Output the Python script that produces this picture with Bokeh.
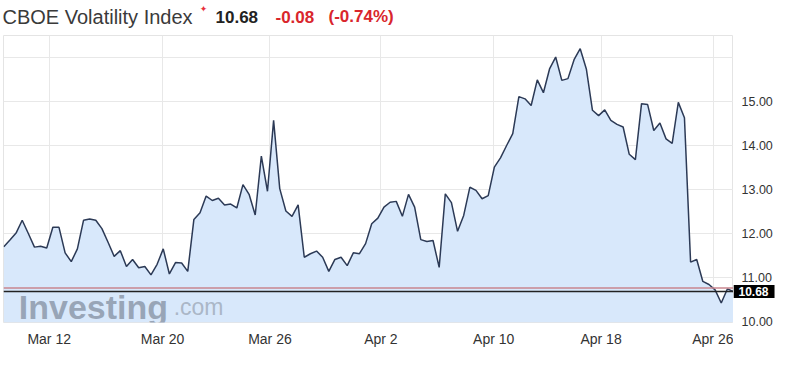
from bokeh.plotting import figure
from bokeh.layouts import column, row
from bokeh.models import (Range1d, FixedTicker, Span, Label, LabelSet,
                          ColumnDataSource, Plot)
from bokeh.core.properties import value
from bokeh.embed import file_html
from bokeh.resources import INLINE

# ---- data ----
vix = [11.70, 11.85, 12.01, 12.30, 12.00, 11.69, 11.71, 11.67, 12.14, 12.14,
       11.56, 11.36, 11.65, 12.30, 12.33, 12.30, 12.11, 11.80, 11.48, 11.61,
       11.25, 11.41, 11.22, 11.25, 11.06, 11.30, 11.65, 11.08, 11.34, 11.33,
       11.14, 12.32, 12.47, 12.85, 12.75, 12.80, 12.65, 12.67, 12.58, 13.11,
       12.89, 12.42, 13.76, 12.96, 14.57, 13.02, 12.51, 12.39, 12.65, 11.46,
       11.54, 11.60, 11.46, 11.14, 11.41, 11.46, 11.27, 11.56, 11.54, 11.77,
       12.22, 12.35, 12.60, 12.71, 12.73, 12.39, 12.89, 12.60, 11.86, 11.82,
       11.84, 11.23, 12.90, 12.70, 12.05, 12.41, 13.05, 12.98, 12.79, 12.86,
       13.51, 13.72, 14.00, 14.27, 15.11, 15.06, 14.91, 15.49, 15.20, 15.74,
       16.01, 15.48, 15.52, 15.95, 16.20, 15.74, 14.80, 14.68, 14.81, 14.57,
       14.48, 14.42, 13.80, 13.68, 14.95, 14.93, 14.34, 14.51, 14.15, 14.05,
       14.98, 14.63, 11.35, 11.41, 10.91, 10.84, 10.72, 10.42, 10.74, 10.68]
x_tick_pos = [7.4, 25.9, 43.4, 61.5, 79.9, 97.4, 115.8]
x_tick_labels = ["Mar 12", "Mar 20", "Mar 26", "Apr 2", "Apr 10", "Apr 18", "Apr 26"]
y_grid_ticks = [10, 11, 12, 13, 14, 15, 16]
y_label_ticks = [10, 11, 12, 13, 14, 15]
last_price = 10.68
prev_close = 10.76
title = "CBOE Volatility Index"
last_text = "10.68"
change_text = "-0.08"
change_pct_text = "(-0.74%)"

idx = list(range(len(vix)))
y_lo, y_hi = 9.977, 16.50
FONT = "Liberation Sans"
TOTAL_W, TOTAL_H = 786, 367
HDR_H = 34
MAIN_H = TOTAL_H - HDR_H
AXIS_W = 53
TOP_B, BOT_B = 1, 45
CAN_UNALIGN = "frame_align" in Plot.properties()

# ---------------- header ----------------
h = figure(width=TOTAL_W, height=HDR_H, output_backend="svg", toolbar_location=None,
           x_range=Range1d(0, TOTAL_W), y_range=Range1d(0, HDR_H),
           min_border=0, x_axis_type=None, y_axis_type=None)
h.outline_line_color = None
h.grid.visible = False
h.background_fill_color = "white"
h.border_fill_color = "white"

def hdr(x, text, size="18px", color="#3a3a3a", style="normal", y=18,
        font=FONT, align="left", baseline="alphabetic"):
    h.add_layout(Label(x=x, y=y, x_units="screen", y_units="screen", text=text,
                       text_font=font, text_font_size=size, text_color=color,
                       text_font_style=style, text_align=align, text_baseline=baseline))

hdr(2, title, size="20px", color="#3a3a3a")
hdr(203, "\u2726", size="9px", color="#e8303a", y=26, font="DejaVu Sans",
    align="center", baseline="middle")
hdr(215, last_text, size="17px", color="#222222", style="bold")
hdr(275, change_text, size="17px", color="#d9262c", style="bold")
hdr(328, change_pct_text, size="17px", color="#d9262c", style="bold")

# ---------------- main chart ----------------
p = figure(width=TOTAL_W - AXIS_W, height=MAIN_H, output_backend="svg", toolbar_location=None,
           x_range=Range1d(-0.05, len(vix) - 1), y_range=Range1d(y_lo, y_hi),
           y_axis_location=None,
           min_border_left=3, min_border_right=0, min_border_top=TOP_B, min_border_bottom=BOT_B)
p.background_fill_color = "white"
p.border_fill_color = "white"
p.outline_line_color = "#e4e4e4"

p.xaxis.ticker = FixedTicker(ticks=x_tick_pos)
p.xaxis.major_label_overrides = {t: l for t, l in zip(x_tick_pos, x_tick_labels)}
ax = p.xaxis[0]
ax.axis_line_color = None
ax.major_tick_line_color = None
ax.minor_tick_line_color = None
ax.major_tick_out = 0
ax.major_tick_in = 0
ax.minor_tick_out = 0
ax.minor_tick_in = 0
ax.major_label_text_font = FONT
ax.major_label_text_color = "#333333"
ax.major_label_text_font_size = "14px"
ax.major_label_standoff = 8

p.xgrid.grid_line_color = "#e8e8e8"
p.ygrid.ticker = FixedTicker(ticks=y_grid_ticks)
p.ygrid.grid_line_color = "#e8e8e8"

p.varea(x=idx, y1=[y_lo] * len(vix), y2=vix, fill_color="#d8e8fb")
p.text(x=[2.45], y=[10.318], text=["Investing"], text_font=value(FONT),
       text_font_style="bold", text_font_size="34px", text_color="#8d99ab",
       text_alpha=0.85, text_baseline="alphabetic")
p.text(x=[27.7], y=[10.318], text=[".com"], text_font=value(FONT),
       text_font_size="23px", text_color="#a5b0c0", text_alpha=0.9,
       text_baseline="alphabetic")
p.line(idx, vix, line_color="#2c3a56", line_width=1.5)

p.add_layout(Span(location=prev_close, dimension="width", line_color="#c9868f", line_width=1.5))
p.add_layout(Span(location=last_price, dimension="width", line_color="#222222", line_width=1.5))

# ---------------- right value scale (same vertical scale) ----------------
if CAN_UNALIGN:
    px_per_unit = (MAIN_H - TOP_B - BOT_B) / (y_hi - y_lo)
    r_range = Range1d(y_lo - BOT_B / px_per_unit, y_hi)
    r_bottom = 0
else:
    r_range = p.y_range
    r_bottom = BOT_B
r = figure(width=AXIS_W, height=MAIN_H, output_backend="svg", toolbar_location=None,
           x_range=Range1d(0, AXIS_W), y_range=r_range,
           x_axis_type=None, y_axis_type=None,
           min_border_left=0, min_border_right=0, min_border_top=TOP_B, min_border_bottom=r_bottom)
r.outline_line_color = None
r.grid.visible = False
r.background_fill_color = "white"
r.border_fill_color = "white"
if CAN_UNALIGN:
    r.frame_align = False
    p.frame_align = False

lab_src = ColumnDataSource(dict(y=y_label_ticks, text=["%.2f" % v for v in y_label_ticks]))
r.add_layout(LabelSet(x=8, y="y", text="text", source=lab_src, text_font=value(FONT),
                      text_font_size="12.5px", text_color="#333333",
                      text_baseline="middle", text_align="left"))

badge_kw = dict(x=0, y=last_price, text=last_text, x_offset=0,
                text_align="left", text_baseline="middle", text_color="white",
                text_font=FONT, text_font_style="bold", text_font_size="12px",
                background_fill_color="black")
try:
    badge = Label(padding=dict(left=5, right=6, top=2, bottom=2), **badge_kw)
except Exception:
    badge = Label(**badge_kw)
r.add_layout(badge)

layout = column(h, row(p, r, spacing=0), spacing=0)
open("out.html", "w").write(file_html(layout, INLINE))
